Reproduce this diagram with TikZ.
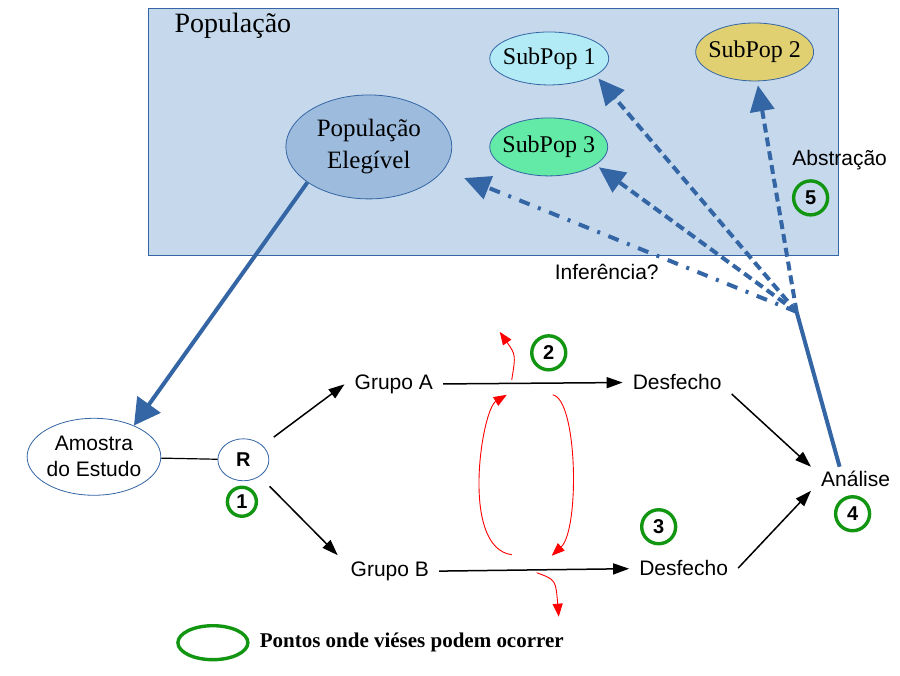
\documentclass[tikz,border=0pt]{standalone}
\usepackage{fontspec}
\setmainfont{Liberation Serif}
\setsansfont{Liberation Sans}
\usepackage{xcolor}
\usetikzlibrary{arrows.meta, positioning, shapes.geometric}

\definecolor{popblue}{RGB}{52,101,164}
\definecolor{boxfill}{RGB}{198,217,236}
\definecolor{elegfill}{RGB}{157,188,221}
\definecolor{subcyan}{RGB}{178,235,245}
\definecolor{subgold}{RGB}{224,208,114}
\definecolor{subgreen}{RGB}{98,234,166}
\definecolor{biasgreen}{RGB}{18,150,18}

\newcommand{\fsz}[2]{\fontsize{#1}{#2}\selectfont}

\begin{document}
\begin{tikzpicture}[x=1pt, y=-1pt,
    lbl/.style={font=\sffamily\fsz{21}{26}, inner xsep=10pt, inner ysep=4pt},
    sample/.style={ellipse, draw=popblue, line width=0.8pt, fill=white, inner sep=0pt},
    popell/.style={sample, font=\fsz{24}{28}},
    bias/.style={circle, draw=biasgreen, line width=3.4pt, minimum size=34pt, inner sep=0pt, font=\sffamily\bfseries\fsz{20}{22}},
    flow/.style={-{Triangle[length=16pt, width=11pt]}, line width=1.5pt},
    absline/.style={popblue, line width=4pt},
    absarrow/.style={absline, dash pattern=on 9pt off 5pt, -{Triangle[length=26pt, width=24pt]}, shorten >=4pt},
    infarrow/.style={absarrow, dash pattern=on 11pt off 9pt on 3pt off 9pt},
    loss/.style={red, line width=0.9pt, -{Triangle[length=13pt, width=10pt]}}]

    \fill[white] (0,0) rectangle (900,676);

    % Population box
    \node[draw=popblue, fill=boxfill, line width=0.8pt, minimum width=690pt, minimum height=247pt, inner sep=0pt, anchor=north west] (pop) at (148,8) {};
    \node[font=\fsz{28}{32}] (poptitle) at (233,26) {População};

    \node[popell, fill=elegfill, minimum width=166pt, minimum height=104pt, align=center, font=\fsz{25}{32}] (eleg) at (369,147) {População\\Elegível};
    \node[popell, fill=subcyan, minimum width=119pt, minimum height=53pt] (sub1) at (549.5,58.5) {\makebox[0pt]{SubPop 1}};
    \node[popell, fill=subgold, minimum width=118pt, minimum height=58pt] (sub2) at (755,52) {\makebox[0pt]{SubPop 2}};
    \node[popell, fill=subgreen, minimum width=118pt, minimum height=58pt] (sub3) at (549,147) {\makebox[0pt]{SubPop 3}};

    % Study
    \node[sample, minimum width=130pt, minimum height=77pt, align=center, font=\sffamily\fsz{21}{26}] (amostra) at (94,457) {Amostra\\do Estudo};
    \node[sample, minimum width=51pt, minimum height=42pt, font=\sffamily\bfseries\fsz{20}{22}] (r) at (243.5,460) {R};
    \node[lbl] (grpA) at (394,384.5) {Grupo A};
    \node[lbl] (grpB) at (390,572) {Grupo B};
    \node[lbl] (desA) at (677.5,382.3) {Desfecho};
    \node[lbl] (desB) at (684,568.3) {Desfecho};
    \node[lbl] (analise) at (856,479) {Análise};
    \node[lbl] (abstr) at (840,160) {Abstração};
    \node[lbl] (infer) at (607,272) {Inferência?};
    \coordinate (hub) at (797,312);

    % Bias points
    \node[bias, minimum size=29pt] (b1) at (242,502) {1};
    \node[bias] (b2) at (549,353) {2};
    \node[bias] (b3) at (659,527) {3};
    \node[bias] (b4) at (853,514) {4};
    \node[bias] (b5) at (811,198) {5};

    % Arrows
    \draw[absline, -{Triangle[length=26pt, width=28pt]}] (eleg.210) -- (amostra.38);
    \draw[line width=1.2pt] (amostra) -- (r);
    \draw[flow, shorten <=14pt] (r) -- (grpA.west);
    \draw[flow, shorten <=14pt, shorten >=4pt] (r) -- (grpB.north west);
    \draw[flow] (grpA) -- (desA);
    \draw[flow] (grpB) -- (desB);
    \draw[flow] (desA.south east) -- (analise.north west);
    \draw[flow] (desB.east) -- (analise.south west);

    % Abstraction and inference
    \draw[absline] ([xshift=-16pt]analise.north) -- (hub);
    \draw[absarrow] (hub) -- (sub1.-20);
    \draw[absarrow] (hub) -- (sub2.-85);
    \draw[absarrow] (hub) -- (sub3.-21);
    \draw[infarrow, shorten >=22pt] (hub) -- (eleg.-17);

    % Losses and crossovers
    \coordinate (dropA) at (512,380);
    \coordinate (dropAout) at (500,332);
    \coordinate (crossB) at (512,555);
    \coordinate (crossBin) at (507,395);
    \coordinate (crossA) at (553,395);
    \coordinate (crossAin) at (552,556);
    \coordinate (dropB) at (537,573);
    \coordinate (dropBout) at (559,617);
    \draw[loss] (dropA) .. controls (516,355) .. (dropAout);
    \draw[loss] (crossB) .. controls (460,548) and (482,410) .. (crossBin);
    \draw[loss] (crossA) .. controls (578,400) and (580,530) .. (crossAin);
    \draw[loss] (dropB) .. controls (556,580) .. (dropBout);

    % Legend
    \node[ellipse, draw=biasgreen, line width=3.4pt, minimum width=70pt, minimum height=34pt] (legmark) at (213,643) {};
    \node[right=10pt of legmark, inner sep=0pt, font=\bfseries\fsz{21}{24}] (legtext) {Pontos onde viéses podem ocorrer};
\end{tikzpicture}
\end{document}
